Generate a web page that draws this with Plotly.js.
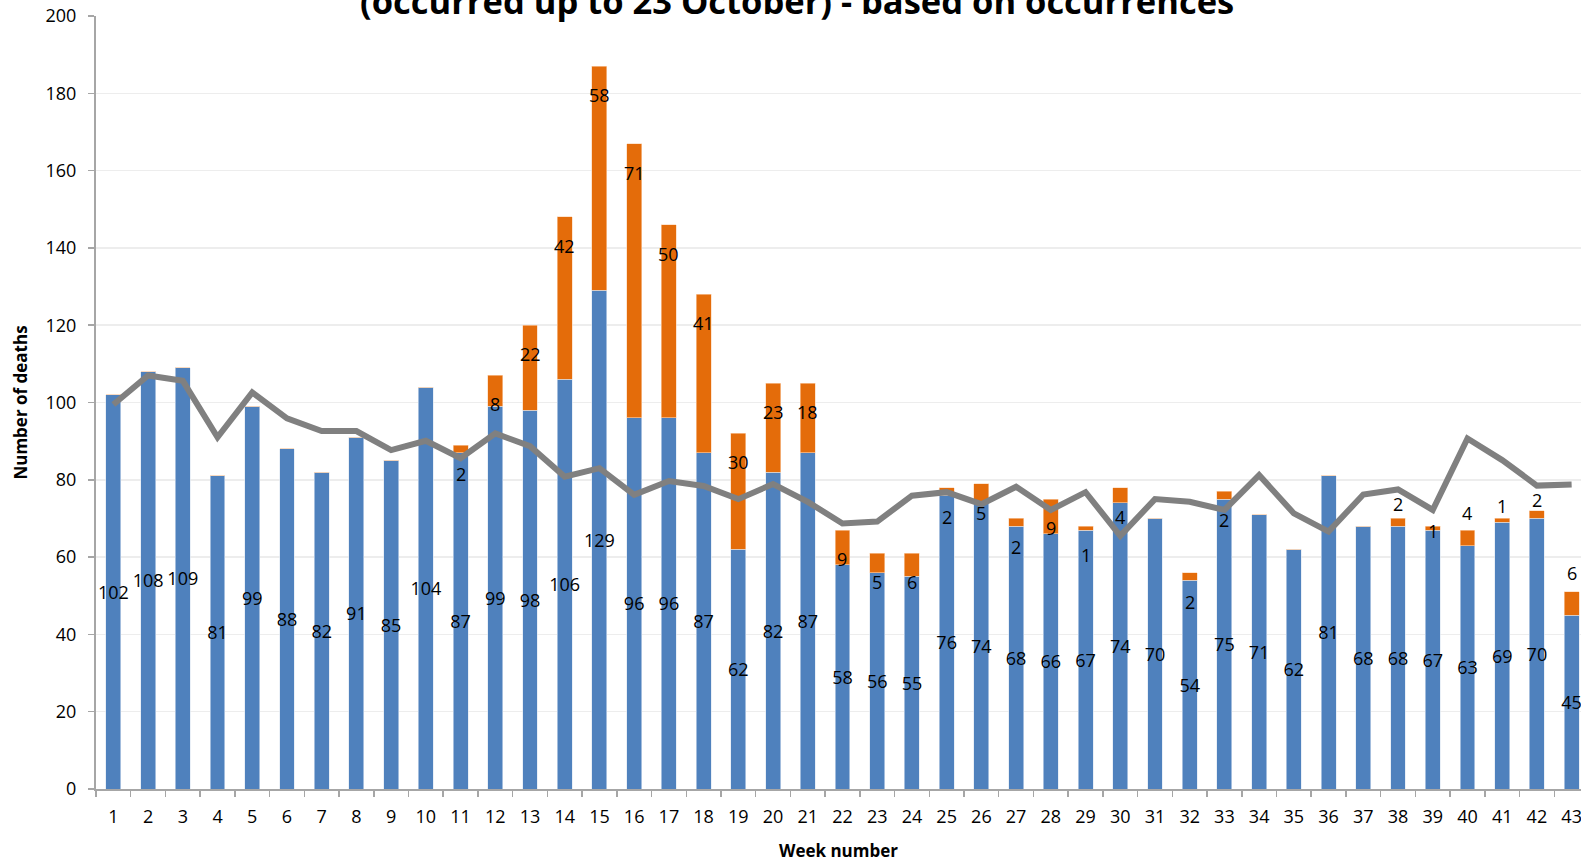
<!DOCTYPE html>
<html>
<head>
<meta charset="utf-8">
<script src="https://cdn.plot.ly/plotly-3.0.1.min.js"></script>
<style>
  html, body { margin: 0; padding: 0; background: #ffffff; }
  #chart { width: 1581px; height: 862px; }
</style>
</head>
<body>
<div id="chart"></div>
<script>
// ---- data ----
const weeks = ["1","2","3","4","5","6","7","8","9","10","11","12","13","14","15","16","17","18","19","20","21","22","23","24","25","26","27","28","29","30","31","32","33","34","35","36","37","38","39","40","41","42","43"];
const blueDeaths = [102,108,109,81,99,88,82,91,85,104,87,99,98,106,129,96,96,87,62,82,87,58,56,55,76,74,68,66,67,74,70,54,75,71,62,81,68,68,67,63,69,70,45];
const orangeDeaths = [0,0,0,0,0,0,0,0,0,0,2,8,22,42,58,71,50,41,30,23,18,9,5,6,2,5,2,9,1,4,0,2,2,0,0,0,0,2,1,4,1,2,6];
const lineValues = [99.5,107,105.6,91,102.6,95.9,92.6,92.6,87.7,90.1,85.6,92,88.7,80.8,83,76.1,79.7,78.4,75,78.9,74.3,68.7,69.2,75.9,76.8,73.7,78.2,72.2,76.8,65.5,75,74.3,72.2,81.2,71.3,66.6,76.2,77.5,72.2,90.7,85.1,78.5,78.8];
const yTicks = [0,20,40,60,80,100,120,140,160,180,200];
const titleText = "(occurred up to 23 October) - based on occurrences";
const xTitle = "Week number";
const yTitle = "Number of deaths";

// ---- style ----
const FONT = "'Open Sans', 'Liberation Sans', sans-serif";
const BLUE = "#4f81bd";
const ORANGE = "#e46c0a";
const GREY = "#808080";
const AXIS = "#a6a6a6";
// per-week vertical shift (px) for the orange labels that sit above their bar
const orangeLabelShift = {"38": 14, "39": -5, "40": 17, "41": 12, "42": 11, "43": 19};

const traces = [
  {
    type: "bar", x: weeks, y: blueDeaths, name: "blue",
    marker: { color: BLUE, line: { color: "#dce6f2", width: 0.6 } },
    width: 0.43,
    text: blueDeaths.map(String),
    textposition: "inside", insidetextanchor: "middle",
    textangle: 0, constraintext: "none",
    insidetextfont: { family: FONT, size: 18, color: "#000000" },
    cliponaxis: false,
    hoverinfo: "x+y"
  },
  {
    type: "bar", x: weeks, y: orangeDeaths, name: "orange",
    marker: { color: ORANGE, line: { color: "#fbd5b5", width: 0.6 } },
    width: 0.43,
    hoverinfo: "x+y"
  },
  {
    type: "scatter", mode: "lines", x: weeks, y: lineValues, name: "line",
    line: { color: GREY, width: 6 },
    hoverinfo: "x+y"
  }
];

const annotations = [];
weeks.forEach(function (w, i) {
  if (orangeDeaths[i] > 0) {
    const shift = (w in orangeLabelShift) ? orangeLabelShift[w] : -29;
    annotations.push({
      x: i, y: blueDeaths[i] + orangeDeaths[i], xref: "x", yref: "y",
      text: String(orangeDeaths[i]), showarrow: false,
      yanchor: "middle", yshift: shift,
      font: { family: FONT, size: 18, color: "#000000" }
    });
  }
});
annotations.push({
  xref: "paper", yref: "paper", x: 0.472, y: 1, xanchor: "center", yanchor: "bottom",
  yshift: -10, text: "<b>" + titleText + "</b>", showarrow: false,
  font: { family: FONT, size: 34.5, color: "#000000" }
});

const layout = {
  width: 1581, height: 862,
  margin: { l: 96, r: 0, t: 16, b: 73 },
  paper_bgcolor: "#ffffff", plot_bgcolor: "#ffffff",
  barmode: "stack", showlegend: false,
  font: { family: FONT, size: 18, color: "#000000" },
  xaxis: {
    type: "category", range: [-0.5, 42.27],
    tickson: "boundaries", ticks: "outside", ticklen: 6, tickcolor: AXIS, tickwidth: 1.5,
    showline: true, linecolor: AXIS, linewidth: 2,
    showgrid: false, zeroline: false,
    tickfont: { family: FONT, size: 18, color: "#000000" },
    ticklabelstandoff: 10,
    title: { text: "<b>" + xTitle + "</b>", font: { family: FONT, size: 17, color: "#000000" }, standoff: 21 }
  },
  yaxis: {
    range: [0, 200], tickvals: yTicks,
    ticks: "outside", ticklen: 6, tickcolor: AXIS, tickwidth: 1.5,
    showline: true, linecolor: AXIS, linewidth: 2,
    showgrid: true, gridcolor: "#ededed", gridwidth: 1.5, zeroline: false,
    tickfont: { family: FONT, size: 18, color: "#000000" },
    ticklabelstandoff: 8,
    title: { text: "<b>" + yTitle + "</b>", font: { family: FONT, size: 17, color: "#000000" }, standoff: 14 }
  },
  annotations: annotations
};

Plotly.newPlot("chart", traces, layout, { displayModeBar: false, staticPlot: true });
</script>
</body>
</html>
